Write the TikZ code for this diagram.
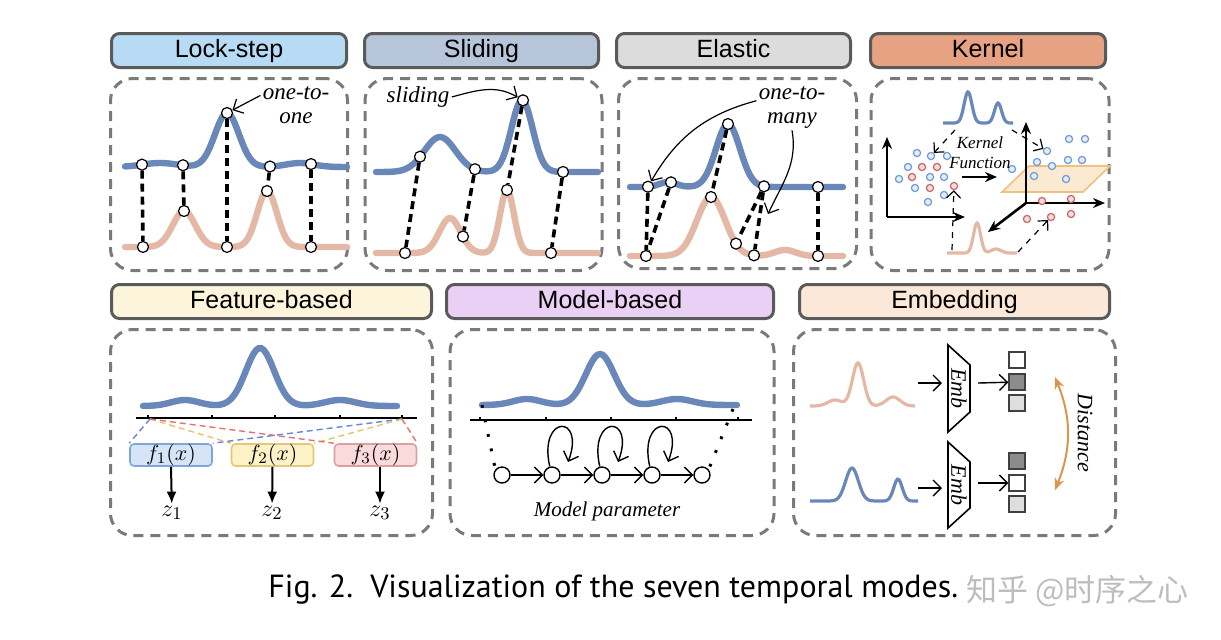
\documentclass[tikz,border=0pt]{standalone}
\usepackage{fontspec}
\setmainfont{Liberation Serif}
\setsansfont{Liberation Sans}
\newfontfamily\capfont{PT Sans}
\newfontfamily\cjkfont{Noto Sans CJK SC}
\usetikzlibrary{arrows.meta,positioning}

\definecolor{headline}{HTML}{5A5A5A}
\definecolor{panelgray}{HTML}{7A7A7A}
\definecolor{lockc}{HTML}{B7DAF5}
\definecolor{slidec}{HTML}{B6C5DA}
\definecolor{elastc}{HTML}{DCDCDC}
\definecolor{kernc}{HTML}{E7A283}
\definecolor{featc}{HTML}{FDF4DC}
\definecolor{modelc}{HTML}{EBD0F6}
\definecolor{embc}{HTML}{FCE8D8}
\definecolor{curveblue}{HTML}{6A87BA}
\definecolor{curvepink}{HTML}{E3B8A5}
\definecolor{dotblue}{HTML}{6F9BD3}
\definecolor{dotbluefill}{HTML}{E3ECF8}
\definecolor{dotred}{HTML}{C86666}
\definecolor{dotredfill}{HTML}{F5DADA}
\definecolor{planefill}{HTML}{FCE9D2}
\definecolor{planeline}{HTML}{EDC27E}
\definecolor{fonefill}{HTML}{D5E5F7}
\definecolor{foneline}{HTML}{7FA6D9}
\definecolor{ftwofill}{HTML}{FDF1C8}
\definecolor{ftwoline}{HTML}{E2C878}
\definecolor{fthreefill}{HTML}{FADADA}
\definecolor{fthreeline}{HTML}{DBA0A0}
\definecolor{distc}{HTML}{D9964C}
\definecolor{wmgray}{HTML}{BDBDBD}

\tikzset{
  headbox/.style={draw=headline,line width=1.5pt,rounded corners=4pt,minimum height=17pt,inner sep=0pt,text height=9pt,text depth=2.2pt,font=\sffamily\fontsize{12.5}{14}\selectfont},
  panel/.style={draw=panelgray,line width=1.5pt,dash pattern=on 5pt off 3.5pt,rounded corners=11pt},
  bluecurve/.style={draw=curveblue,line width=3.2pt,line cap=round},
  pinkcurve/.style={draw=curvepink,line width=3.2pt,line cap=round},
  dot/.style={circle,draw,fill=white,line width=0.6pt,inner sep=0pt,minimum size=5.5pt},
  link/.style={line width=1.8pt,dash pattern=on 4pt off 2.5pt},
  note/.style={font=\itshape\fontsize{11.5}{12}\selectfont,align=center,inner sep=1pt},
  barb/.style={line width=0.6pt,-{Straight Barb[length=4pt]}},
  bdot/.style={circle,draw=dotblue,fill=dotbluefill,line width=0.6pt,inner sep=0pt,minimum size=3.6pt},
  rdot/.style={circle,draw=dotred,fill=dotredfill,line width=0.6pt,inner sep=0pt,minimum size=3.6pt},
  axis/.style={line width=1.3pt,-{Stealth[length=6pt,width=5pt]}},
  kdash/.style={line width=0.6pt,dashed,-{Straight Barb[length=3.5pt]}},
  fbox/.style={rounded corners=2pt,line width=0.8pt,minimum width=41pt,minimum height=11pt,inner sep=0pt,font=\fontsize{11}{11}\selectfont},
  fdash/.style={line width=0.7pt,dash pattern=on 3pt off 2pt},
  state/.style={circle,draw,line width=0.7pt,inner sep=0pt,minimum size=8pt},
  chain/.style={line width=0.7pt,-{Straight Barb[length=4pt]}},
  sq/.style={draw=black!75,line width=0.7pt,minimum size=8pt,inner sep=0pt},
}

\begin{document}
\begin{tikzpicture}[x=0.5pt,y=0.5pt,>=Latex,
  declare function={bump(\t,\m,\s)=exp(-((\t-\m)/\s)*((\t-\m)/\s));
    lsb(\t)=54*bump(\t,227,17)+4*bump(\t,160,25)+4*bump(\t,300,20)-167;
    lsp(\t)=36*bump(\t,184,16)+56*bump(\t,267,14)-247;
    slb(\t)=35*bump(\t,440,22)+72*bump(\t,522,15)-172;
    slp(\t)=35*bump(\t,450,15)+63*bump(\t,507,10)-253;
    elb(\t)=63*bump(\t,728,17)+5*bump(\t,668,12)-187;
    elp(\t)=59*bump(\t,711,20)+6*bump(\t,785,15)-256;
    knb(\t)=31*bump(\t,968,5.5)+20*bump(\t,998,5)-123;
    knp(\t)=30*bump(\t,977,5)+4*bump(\t,996,7)-253;
    ftb(\t)=58*bump(\t,260,20)+6*bump(\t,185,20)+6*bump(\t,340,22)-406;
    mdb(\t)=51*bump(\t,600,20)+6*bump(\t,527,20)+6*bump(\t,677,22)-405;
    emp(\t)=43*bump(\t,858,8)+6*bump(\t,835,10)+9*bump(\t,893,10)-406;
    emb(\t)=33*bump(\t,852,9)+22*bump(\t,898,6)-501;}]
\useasboundingbox (0,0) rectangle (1221,-639);

% headers
\node[headbox,fill=lockc,minimum width=117.5pt] (lockT) at (229,-50.5) {Lock-step};
\node[headbox,fill=slidec,minimum width=117pt] (slideT) at (481.5,-50.5) {Sliding};
\node[headbox,fill=elastc,minimum width=117pt] (elastT) at (733.5,-50.5) {Elastic};
\node[headbox,fill=kernc,minimum width=117.5pt] (kernT) at (988,-50.5) {Kernel};
\node[headbox,fill=featc,minimum width=160pt] (featT) at (271.5,-301.5) {Feature-based};
\node[headbox,fill=modelc,minimum width=163.5pt] (modelT) at (610,-301.5) {Model-based};
\node[headbox,fill=embc,minimum width=155pt] (embT) at (954.5,-301.5) {Embedding};

% dashed panels
\node[panel,minimum width=118.5pt,minimum height=96pt,below=4pt of lockT] (lockP) {};
\node[panel,minimum width=118.5pt,minimum height=96pt,below=4pt of slideT,xshift=1pt] (slideP) {};
\node[panel,minimum width=119pt,minimum height=95pt,below=4pt of elastT,xshift=2pt] (elastP) {};
\node[panel,minimum width=119pt,minimum height=96pt,below=4pt of kernT,xshift=1pt] (kernP) {};
\node[panel,minimum width=161pt,minimum height=103pt,below=4pt of featT] (featP) {};
\node[panel,minimum width=162pt,minimum height=103pt,below=4pt of modelT,xshift=1pt] (modelP) {};
\node[panel,minimum width=161pt,minimum height=103pt,below=4pt of embT] (embP) {};

% lock-step
\draw[bluecurve] plot[domain=125:347,samples=90] (\x,{lsb(\x)});
\draw[pinkcurve] plot[domain=125:347,samples=90] (\x,{lsp(\x)});
\foreach \i/\a/\b in {1/142/143,2/183/184,3/227/227,4/270/267,5/311/311}{
  \node[dot] (lb\i) at (\a,{lsb(\a)}) {};
  \node[dot] (lp\i) at (\b,{lsp(\b)}) {};
  \draw[link] (lb\i) -- (lp\i);
}
\node[note] (oto) at (296,-105) {one-to-\\one};
\draw[barb] (oto.165) -- (lb3);

% sliding
\draw[bluecurve] plot[domain=376:598,samples=90] (\x,{slb(\x)});
\draw[pinkcurve] plot[domain=376:598,samples=90] (\x,{slp(\x)});
\foreach \i/\a/\b in {1/420/405,2/475/463,3/523/507,4/563/551}{
  \node[dot] (sb\i) at (\a,{slb(\a)}) {};
  \node[dot] (sp\i) at (\b,{slp(\b)}) {};
  \draw[link] (sb\i) -- (sp\i);
}
\node[note] (sld) at (418,-97) {sliding};
\draw[barb] (sld.east) to[out=15,in=150] (sb3);

% elastic
\draw[bluecurve] plot[domain=630:843,samples=90] (\x,{elb(\x)});
\draw[pinkcurve] plot[domain=630:843,samples=90] (\x,{elp(\x)});
\foreach \i/\a/\b in {1/648/646,2/671/711,3/728/736,4/764/754,5/818/818}{
  \node[dot] (eb\i) at (\a,{elb(\a)}) {};
  \node[dot] (ep\i) at (\b,{elp(\b)}) {};
}
\foreach \a/\b in {eb1/ep1,eb2/ep1,eb3/ep2,eb4/ep3,eb4/ep4,eb5/ep5}
  \draw[link] (\a) -- (\b);
\node[note] (otm) at (792,-107) {one-to-\\many};
\coordinate (emid) at (768,-214);
\draw[barb] (otm.170) to[out=195,in=60] (eb1);
\draw[barb] (otm.south) to[out=-80,in=65] (emid);

% kernel
\draw[draw=planeline,fill=planefill,line width=0.8pt] (1002,-192) -- (1029,-166) -- (1110,-166) -- (1083,-192) -- cycle;
\draw[curveblue,line width=1.6pt] plot[domain=943:1013,samples=80] (\x,{knb(\x)});
\draw[curvepink,line width=1.6pt] plot[domain=947:1017,samples=80] (\x,{knp(\x)});
\coordinate (kzero) at (887,-217);
\draw[axis] (kzero) -- ++(0,80);
\draw[axis] (kzero) -- ++(78,0);
\coordinate (kone) at (1026,-203);
\draw[axis] (kone) -- ++(0,81);
\draw[axis] (kone) -- ++(79,0);
\draw[axis] (kone) -- ++(-38,-29);
\foreach \p [count=\k] in {(917,-153),(931,-156),(947,-156),(908,-167),(930,-177),(944,-177),(899,-179),(915,-188),(944,-195),(928,-202),(1012,-169)}
  \node[bdot] (kbl\k) at \p {};
\foreach \p [count=\k] in {(922,-167),(937,-167),(912,-177),(930,-188),(954,-186)}
  \node[rdot] (krl\k) at \p {};
\foreach \p [count=\k] in {(1069,-139),(1085,-139),(1047,-151),(1037,-162),(1052,-166),(1068,-160),(1082,-160),(1034,-176),(1066,-179)}
  \node[bdot] (kbr\k) at \p {};
\foreach \p [count=\k] in {(1042,-201),(1071,-199),(1027,-219),(1051,-217),(1071,-214)}
  \node[rdot] (krr\k) at \p {};
\node[note,font=\itshape\fontsize{8.5}{10}\selectfont] (kfun) at (980,-153) {Kernel\\Function};
\coordinate (kin) at (962,-177);
\coordinate (kout) at (997,-177);
\draw[axis] (kin) -- (kout);
\coordinate (kbs) at (955,-130);
\coordinate (kbe) at (1012,-130);
\coordinate (kps) at (952,-250);
\coordinate (kpe) at (1018,-252);
\draw[kdash] (kbs) -- (kbl2);
\draw[kdash] (kbe) -- (kbr3);
\draw[kdash] (kps) -- (krl5);
\draw[kdash] (kpe) -- (krr4);

% feature-based
\draw[bluecurve] plot[domain=143:397,samples=100] (\x,{ftb(\x)});
\draw[line width=0.9pt] (136,-418) -- (417,-418);
\foreach \x in {148,212,275,340,402} \draw[line width=0.6pt] (\x,-418) -- ++(0,3);
\coordinate (fl) at (150,-419);
\coordinate (fr) at (402,-419);
\node[fbox,draw=foneline,fill=fonefill] (f1) at (171,-455) {$f_1(x)$};
\node[fbox,draw=ftwoline,fill=ftwofill] (f2) at (272.5,-455) {$f_2(x)$};
\node[fbox,draw=fthreeline,fill=fthreefill] (f3) at (375.5,-455) {$f_3(x)$};
\draw[fdash,foneline!80!blue] (fl) -- (f1.north west) (fr) -- (f1.north east);
\draw[fdash,ftwoline!90!orange] (fl) -- (f2.north west) (fr) -- (f2.north east);
\draw[fdash,fthreeline!70!red] (fl) -- (f3.north west) (fr) -- (f3.north east);
\node[font=\fontsize{13}{13}\selectfont,inner sep=1pt] (z1) at (172,-513) {$z_1$};
\node[font=\fontsize{13}{13}\selectfont,inner sep=1pt] (z2) at (272,-513) {$z_2$};
\node[font=\fontsize{13}{13}\selectfont,inner sep=1pt] (z3) at (380,-513) {$z_3$};
\draw[line width=1pt,-{Latex[length=6pt,width=5pt]}] (f1.south) -- (z1);
\draw[line width=1pt,-{Latex[length=6pt,width=5pt]}] (f2.south) -- (z2);
\draw[line width=1pt,-{Latex[length=6pt,width=5pt]}] (f3.south -| z3) -- (z3);

% model-based
\draw[bluecurve] plot[domain=482:737,samples=100] (\x,{mdb(\x)});
\draw[line width=0.9pt] (470,-420) -- (752,-420);
\foreach \x in {480,546,611,676,738} \draw[line width=0.6pt] (\x,-420) -- ++(0,3);
\foreach \i/\x in {1/502,2/552,3/602,4/652,5/702}
  \node[state] (m\i) at (\x,-475) {};
\foreach \a/\b in {m1/m2,m2/m3,m3/m4,m4/m5}
  \draw[chain] (\a) -- (\b);
\foreach \i/\x in {2/552,3/602,4/652}
  \draw[chain] (m\i.105) .. controls ({\x-14},-414) and ({\x+34},-414) .. ({\x+16},-462);
\coordinate (ml) at (482,-405);
\coordinate (mr) at (733,-409);
\draw[line width=1.5pt,dash pattern=on 1.4pt off 6pt] (ml) -- (m1.140);
\draw[line width=1.5pt,dash pattern=on 1.4pt off 6pt] (mr) -- (m5.40);
\node[note,font=\itshape\fontsize{10.5}{12}\selectfont] (mpar) at (607,-511) {Model parameter};

% embedding
\draw[curvepink,line width=1.6pt] plot[domain=810:915,samples=80] (\x,{emp(\x)});
\draw[curveblue,line width=1.6pt] plot[domain=810:918,samples=80] (\x,{emb(\x)});
\draw[line width=0.8pt] (948,-345) -- (970,-365) -- (970,-412) -- (948,-432) -- cycle;
\draw[line width=0.8pt] (948,-442) -- (970,-462) -- (970,-508) -- (948,-528) -- cycle;
\node[rotate=-90,font=\itshape\fontsize{11}{11}\selectfont,inner sep=0pt] (emb1) at (959,-388.5) {Emb};
\node[rotate=-90,font=\itshape\fontsize{11}{11}\selectfont,inner sep=0pt] (emb2) at (959,-485) {Emb};
\foreach \i/\y/\c in {1/360/white,2/382/black!45,3/403/black!13}
  \node[sq,fill=\c] (sa\i) at (1017,-\y) {};
\foreach \i/\y/\c in {1/461/black!45,2/483/white,3/504/black!13}
  \node[sq,fill=\c] (sb\i) at (1017,-\y) {};
\draw[chain] (918,-383) -- (942,-383);
\draw[chain] (978,-383) -- (sa2);
\draw[chain] (918,-488) -- (942,-488);
\draw[chain] (978,-483) -- (sb2);
\coordinate (dtop) at (1055,-377);
\coordinate (dbot) at (1055,-490);
\draw[distc,line width=1pt,{Stealth[length=6pt,width=5pt]}-{Stealth[length=6pt,width=5pt]}] (dtop) to[bend left=22] (dbot);
\node[rotate=-90,font=\itshape\fontsize{11}{11}\selectfont] (dist) at (1085,-433) {Distance};

% caption
\node[anchor=west,font=\capfont\fontsize{16}{16}\selectfont,inner sep=0pt] (cap) at (268,-589) {Fig. 2.\ \ Visualization of the seven temporal modes.};
\node[anchor=west,font=\cjkfont\fontsize{15.5}{16}\selectfont,text=wmgray,inner sep=0pt] (wmark) at (966,-591) {知乎 @时序之心};

\end{tikzpicture}
\end{document}
